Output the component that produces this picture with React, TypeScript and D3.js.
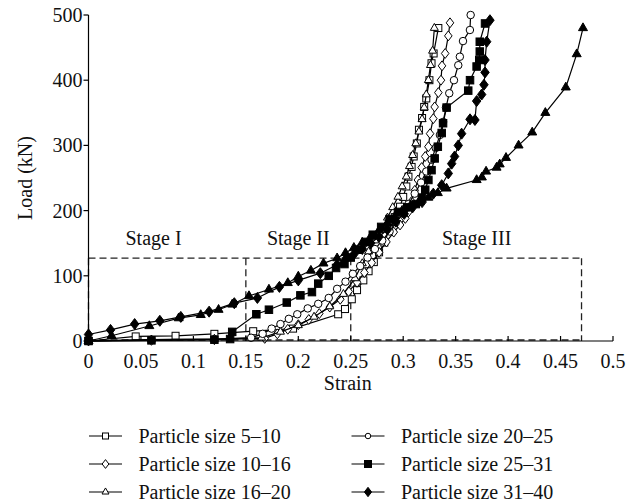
import React from 'react';
import * as d3 from 'd3';

type Pt = [number, number];

const xTicks: number[] = [0, 0.05, 0.1, 0.15, 0.2, 0.25, 0.3, 0.35, 0.4, 0.45, 0.5];
const xTickLabels: string[] = ['0', '0.05', '0.1', '0.15', '0.2', '0.25', '0.3', '0.35', '0.4', '0.45', '0.5'];
const yTicks: number[] = [0, 100, 200, 300, 400, 500];

// strain, load (kN)
const size5to10: Pt[] = [[0,0],[0.045,7],[0.083,8],[0.12,11],[0.157,15],[0.195,19],[0.238,41],[0.2445,49],[0.251,64],[0.256,78],[0.262,93],[0.267,107],[0.272,121],[0.277,136],[0.282,151],[0.287,172],[0.292,190],[0.297,206],[0.300,221],[0.303,237],[0.305,252],[0.308,267],[0.310,283],[0.313,303],[0.315,324],[0.318,342],[0.320,359],[0.322,372],[0.325,400],[0.327,426],[0.329,441],[0.3335,480]];
const size10to16: Pt[] = [[0,0],[0.06,1],[0.12,2],[0.168,4],[0.18,11],[0.19,18],[0.2,25],[0.21,33],[0.22,42],[0.23,52],[0.24,64],[0.248,76],[0.256,90],[0.263,105],[0.27,120],[0.277,136],[0.284,152],[0.291,167],[0.297,178],[0.302,188],[0.305,198],[0.308,214],[0.311,231],[0.314,247],[0.3176,266],[0.321,283],[0.324,298],[0.3256,318],[0.3287,341],[0.330,359],[0.3335,381],[0.336,400],[0.337,422],[0.34,441],[0.343,468],[0.3446,488]];
const size16to20: Pt[] = [[0,0],[0.06,2],[0.12,3],[0.165,5],[0.183,14],[0.2,24],[0.215,37],[0.23,53],[0.243,72],[0.254,96],[0.261,119],[0.267,137],[0.273,154],[0.279,171],[0.285,189],[0.29,205],[0.295,221],[0.299,237],[0.303,252],[0.306,268],[0.309,285],[0.312,303],[0.315,321],[0.318,340],[0.32,358],[0.322,378],[0.324,400],[0.326,423],[0.328,445],[0.3297,480]];
const size20to25: Pt[] = [[0,0],[0.06,2],[0.12,3],[0.155,5],[0.166,11],[0.1746,19],[0.183,26],[0.191,34],[0.199,41],[0.209,50],[0.219,57],[0.229,66],[0.237,80],[0.245,91],[0.252,103],[0.259,115],[0.266,128],[0.273,141],[0.28,154],[0.287,168],[0.293,182],[0.299,196],[0.305,210],[0.311,226],[0.317,243],[0.322,260],[0.327,278],[0.331,296],[0.335,316],[0.338,336],[0.3408,358],[0.3439,380],[0.3484,400],[0.3525,423],[0.354,436],[0.357,460],[0.3636,477],[0.3643,500]];
const size25to31: Pt[] = [[0,0],[0.06,1],[0.12,2],[0.135,3],[0.137,14],[0.160,41],[0.172,48],[0.189,59],[0.202,70],[0.213,75],[0.219,88],[0.229,100],[0.236,112],[0.244,118],[0.25,128],[0.257,140],[0.264,152],[0.271,163],[0.279,175],[0.287,187],[0.295,198],[0.304,205],[0.312,210],[0.318,220],[0.321,232],[0.324,247],[0.327,262],[0.330,280],[0.333,298],[0.3367,319],[0.338,334],[0.3414,358],[0.362,384],[0.3637,400],[0.370,421],[0.3725,431],[0.373,444],[0.373,459],[0.378,487]];
const size31to40: Pt[] = [[0,10],[0.021,17],[0.044,26],[0.068,31],[0.088,37],[0.115,45],[0.139,58],[0.161,66],[0.182,83],[0.2,93],[0.221,104],[0.237,117],[0.245,125],[0.253,133],[0.261,141],[0.269,150],[0.277,160],[0.285,171],[0.293,183],[0.301,195],[0.309,205],[0.318,213],[0.3287,226],[0.3367,239],[0.343,257],[0.3462,272],[0.349,283],[0.3525,300],[0.3557,318],[0.3637,340],[0.3684,339],[0.370,368],[0.3748,378],[0.377,393],[0.378,412],[0.378,431],[0.3796,459],[0.3827,492]];
// filled-triangle curve shown in the plot but absent from the legend
const extraSeries: Pt[] = [[0,0],[0.022,8],[0.058,23],[0.086,35],[0.107,40],[0.124,48],[0.137,56],[0.153,69],[0.172,79],[0.19,89],[0.2,99],[0.212,108],[0.224,119],[0.237,127],[0.245,135],[0.253,143],[0.261,151],[0.269,160],[0.277,170],[0.285,181],[0.292,191],[0.299,200],[0.307,208],[0.315,214],[0.324,220],[0.333,227],[0.3414,234],[0.370,247],[0.375,251],[0.379,260],[0.389,266],[0.392,271],[0.398,281],[0.41,300],[0.423,320],[0.4355,350],[0.455,389],[0.4654,440],[0.4714,480]];

const legendNames: string[] = ['Particle size 5–10', 'Particle size 10–16', 'Particle size 16–20', 'Particle size 20–25', 'Particle size 25–31', 'Particle size 31–40'];

// stage boundaries (strain) and box height (load)
const stageBounds: number[] = [0, 0.15, 0.25, 0.47];
const stageTop = 127;
const stageLabels: string[] = ['Stage I', 'Stage II', 'Stage III'];
const stageLabelX: number[] = [0.062, 0.2, 0.37];
const stageLabelY = 147;

type Shape = 'square' | 'diamond' | 'triangle' | 'circle';

const FONT = "'Liberation Serif', 'DejaVu Serif', serif";

function marker(shape: Shape, cx: number, cy: number, s: number, filled: boolean, key: string | number) {
  const fill = filled ? '#000' : '#fff';
  const common = { fill, stroke: '#000', strokeWidth: 1 };
  if (shape === 'square') {
    return <rect key={key} x={cx - s / 2} y={cy - s / 2} width={s} height={s} {...common} />;
  }
  if (shape === 'circle') {
    return <circle key={key} cx={cx} cy={cy} r={s / 2} {...common} />;
  }
  if (shape === 'diamond') {
    const w = s * 0.42, h = s * 0.55;
    return <path key={key} d={`M${cx},${cy - h}L${cx + w},${cy}L${cx},${cy + h}L${cx - w},${cy}Z`} {...common} />;
  }
  const h = s * 0.866;
  return <path key={key} d={`M${cx},${cy - (2 * h) / 3}L${cx + s / 2},${cy + h / 3}L${cx - s / 2},${cy + h / 3}Z`} {...common} />;
}

export default function App() {
  const W = 638, H = 502;
  const x = d3.scaleLinear().domain([0, 0.5]).range([88.5, 613]);
  const y = d3.scaleLinear().domain([0, 500]).range([341, 15]);
  const line = d3.line<Pt>().x(d => x(d[0])).y(d => y(d[1]));

  const series: { data: Pt[]; shape: Shape; filled: boolean; size: number }[] = [
    { data: size5to10, shape: 'square', filled: false, size: 7 },
    { data: size10to16, shape: 'diamond', filled: false, size: 9 },
    { data: size16to20, shape: 'triangle', filled: false, size: 8 },
    { data: size20to25, shape: 'circle', filled: false, size: 7.5 },
    { data: size25to31, shape: 'square', filled: true, size: 7.5 },
    { data: size31to40, shape: 'diamond', filled: true, size: 10 },
    { data: extraSeries, shape: 'triangle', filled: true, size: 9 },
  ];

  const legendRowsY = [436, 464, 492];
  const legendCols = [105.5, 368];
  const legendSizes = [6, 8, 7, 5.5, 7, 8.5];

  const [x0, x1] = x.range();
  const [yb, yt] = y.range();
  const txt = { fontFamily: FONT };

  return (
    <svg width={W} height={H} style={{ position: 'absolute', left: 0, top: 0, background: '#fff' }}>
      <rect x={0} y={0} width={W} height={H} fill="#fff" />
      {/* stage dashed box */}
      <g stroke="#222" strokeWidth={1.3} strokeDasharray="7,4" fill="none">
        <line x1={x(stageBounds[0])} x2={x(stageBounds[3])} y1={y(stageTop)} y2={y(stageTop)} />
        <line x1={x(stageBounds[0])} x2={x(stageBounds[3])} y1={y(0) - 1} y2={y(0) - 1} />
        {stageBounds.map((b, i) => (
          <line key={i} x1={x(b)} x2={x(b)} y1={y(stageTop)} y2={y(0)} />
        ))}
      </g>
      {stageLabels.map((t, i) => (
        <text key={t} x={x(stageLabelX[i])} y={y(stageLabelY)} fontSize={20} textAnchor="middle" fill="#111" style={txt}>{t}</text>
      ))}

      {/* series */}
      {series.map((s, i) => (
        <g key={i}>
          <path d={line(s.data) || ''} fill="none" stroke="#000" strokeWidth={1.2} />
          {s.data.map((d, j) => marker(s.shape, x(d[0]), y(d[1]), s.size, s.filled, j))}
        </g>
      ))}

      {/* axes */}
      <g stroke="#000" strokeWidth={1.2}>
        <line x1={x0} x2={x1} y1={yb} y2={yb} />
        <line x1={x0} x2={x0} y1={yb} y2={yt} />
        {xTicks.map((t, i) => (
          <line key={'xt' + i} x1={x(t)} x2={x(t)} y1={yb} y2={yb - 5} />
        ))}
        {yTicks.map((t, i) => (
          <line key={'yt' + i} x1={x0 - 5} x2={x0} y1={y(t)} y2={y(t)} />
        ))}
      </g>
      {xTicks.map((t, i) => (
        <text key={'xl' + i} x={x(t)} y={368} fontSize={20} textAnchor="middle" fill="#111" style={txt}>{xTickLabels[i]}</text>
      ))}
      {yTicks.map((t, i) => (
        <text key={'yl' + i} x={x0 - 6} y={y(t)} dy="0.35em" fontSize={20} textAnchor="end" fill="#111" style={txt}>{t}</text>
      ))}
      <text x={(x0 + x1) / 2 - 3} y={390} fontSize={20} textAnchor="middle" fill="#111" style={txt}>Strain</text>
      <text transform={`translate(32,${(yb + yt) / 2}) rotate(-90)`} fontSize={20} textAnchor="middle" fill="#111" style={txt}>Load (kN)</text>

      {/* legend */}
      {legendNames.map((name, i) => {
        const col = Math.floor(i / 3);
        const row = i % 3;
        const cx = legendCols[col];
        const cy = legendRowsY[row];
        const s = series[i];
        return (
          <g key={name}>
            <line x1={cx - 16.5} x2={cx + 16.5} y1={cy} y2={cy} stroke="#000" strokeWidth={1.2} />
            {marker(s.shape, cx, cy, legendSizes[i], s.filled, 'm')}
            <text x={cx + 33} y={cy + 6.5} fontSize={20} fill="#111" style={txt}>{name}</text>
          </g>
        );
      })}
    </svg>
  );
}
